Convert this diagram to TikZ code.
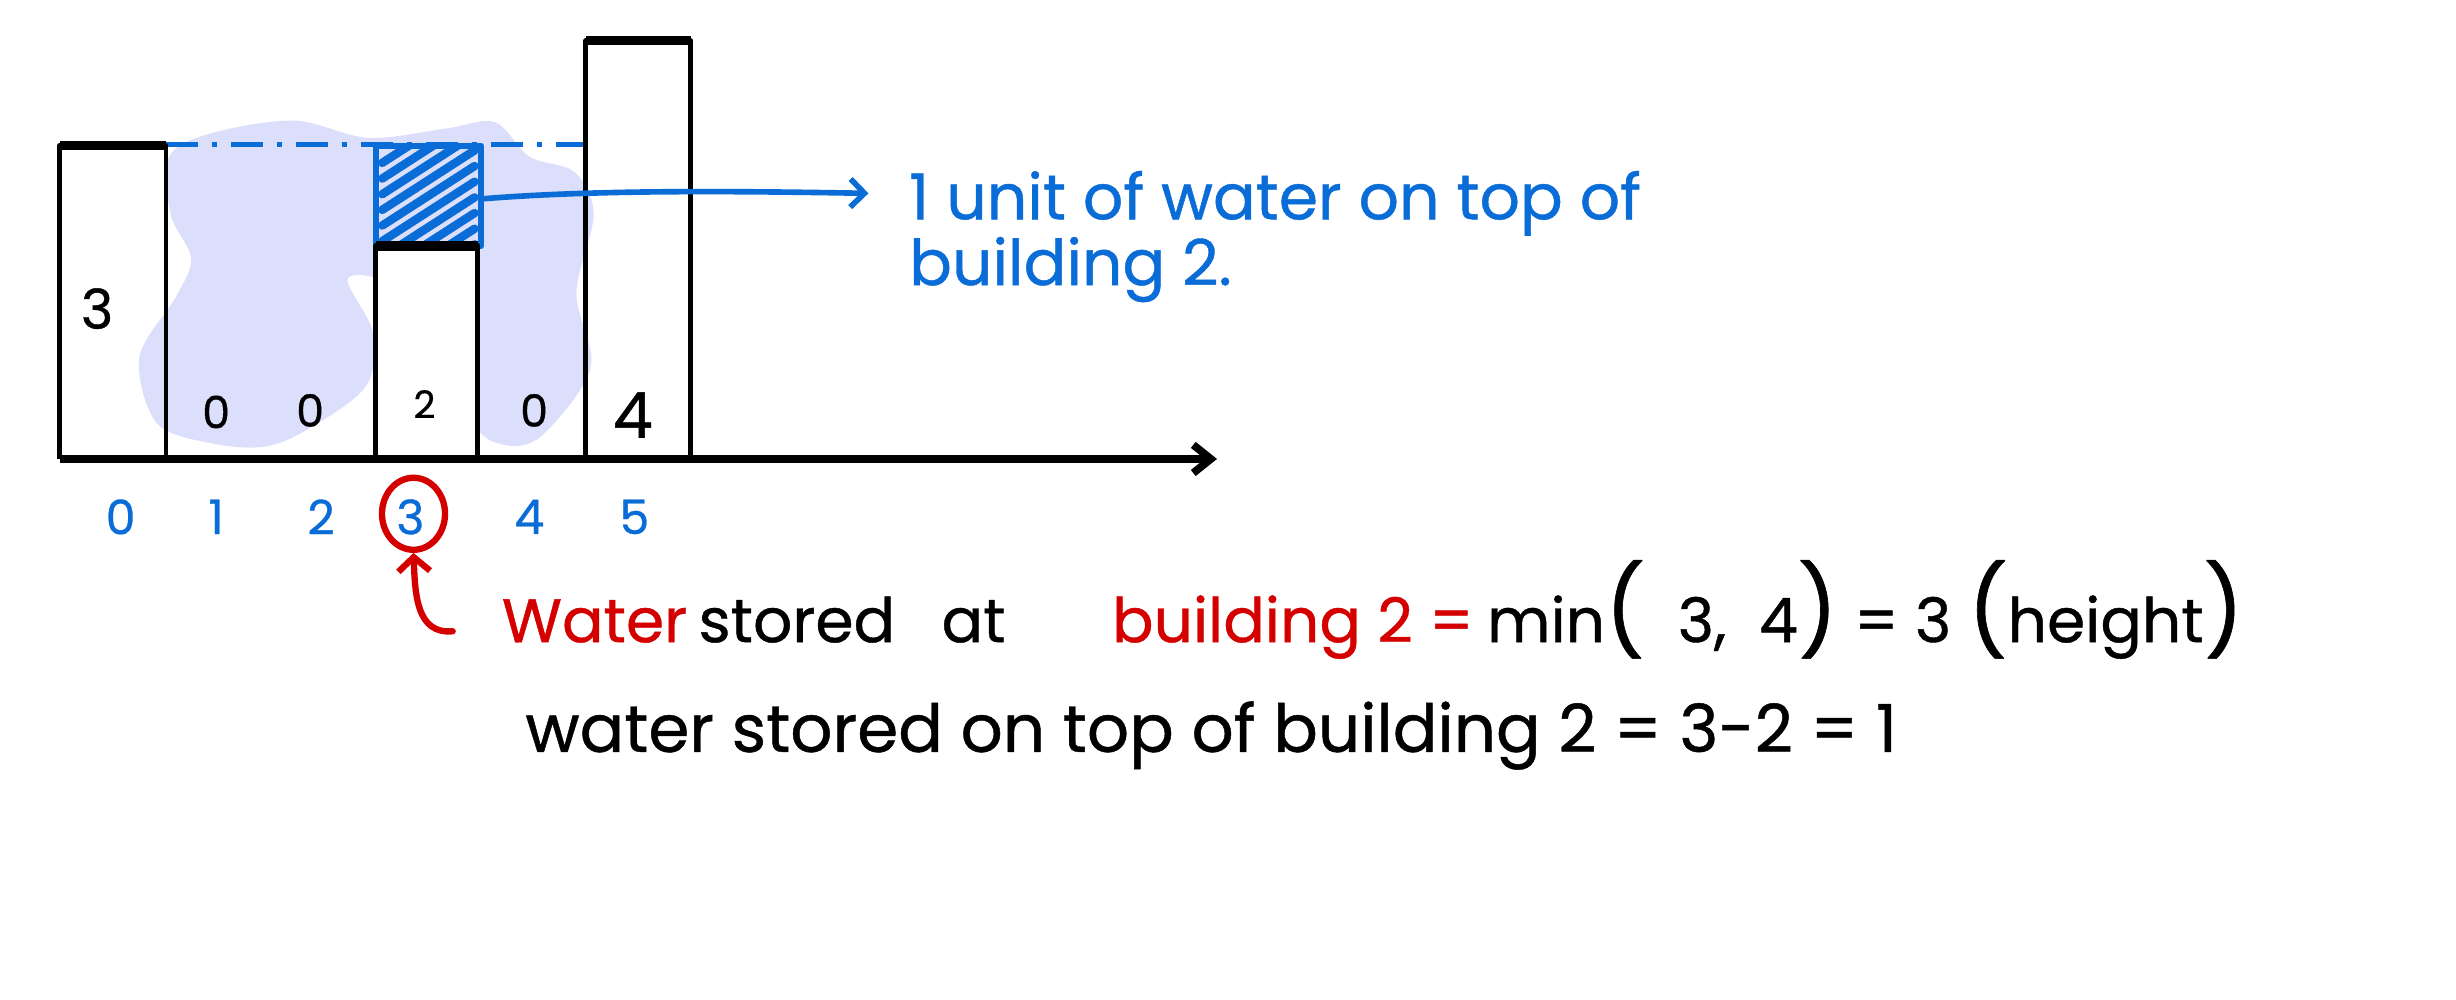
\documentclass[tikz,border=0pt]{standalone}
\usepackage{fontspec}
\setsansfont{Poppins}[FakeBold=0.7]
\usetikzlibrary{arrows.meta,positioning,shapes.geometric}
\definecolor{wblue}{HTML}{0A6CD6}
\definecolor{wred}{HTML}{D40000}
\definecolor{wpool}{HTML}{DCDFFB}
\newcommand{\bigparen}[1]{{\fontsize{25}{25}\selectfont #1}}
\tikzset{
	bar/.style={line width=1.4pt, line join=round},
	bartop/.style={line width=2.6pt},
	idx/.style={wblue, font=\sffamily\fontsize{13.5}{15}\selectfont},
	hlabel/.style={font=\sffamily\fontsize{12}{14}\selectfont},
	note/.style={wblue, anchor=base west, inner sep=0pt, font=\sffamily\fontsize{18}{21}\selectfont},
	say/.style={anchor=base west, inner sep=0pt, font=\sffamily\fontsize{17.5}{20}\selectfont},
	ring/.style={draw=wred, ellipse, line width=1.8pt, minimum width=0.63cm, minimum height=0.72cm},
}
\begin{document}
\begin{tikzpicture}[x=0.015663cm, y=-0.015663cm, font=\sffamily]
	\useasboundingbox (0,0) rectangle (1568,638);
	%water pool
	\fill[wpool] plot[smooth cycle, tension=0.55] coordinates{(108,100) (135,85) (188,77) (235,88)
		(285,82) (316,78) (338,100) (367,110) (379,137) (368,187) (377,235) (346,278)
		(322,284) (302,268) (290,200) (250,180) (222,178) (238,212) (234,246) (200,272)
		(170,285) (135,283) (100,270) (89,228) (112,190) (122,165) (109,137)};
	\fill[white] (240,157) rectangle (305,293);
	%water on top of building 2
	\begin{scope}
		\clip (240,93) rectangle (307,157);
		\foreach \c in {104,114,...,194}
		\draw[wblue, line width=2.4pt, line cap=round] (244,\c) -- (303,\c-38);
	\end{scope}
	\draw[wblue, line width=1.8pt, line join=round] (240,93) rectangle (307,157);
	\coordinate (wbox) at (307,127);
	%level of building 0
	\draw[wblue, line width=1.4pt, dash pattern=on 9pt off 4pt on 1.5pt off 4pt] (106,92) -- (374,92);
	%buildings
	\foreach \l/\r/\t in {38/106/93, 240/305/157, 374/441/26}{
		\draw[bar] (\l,293) |- (\r,\t) -- (\r,293);
		\draw[bartop] (\l,\t) -- (\r,\t);
	}
	%axis
	\draw[line width=2.2pt, -{Straight Barb[length=5pt,width=8pt]}] (38,293) -- (777,293);
	%heights
	\foreach \x/\y/\h/\s [count=\i from 0] in {62/197/3/1.3, 138/263/0/1.05, 198/262/0/1.05, 271/258/2/0.9, 341/262/0/1.05, 404/265/4/1.5}
	\node[hlabel, scale=\s] (h\i) at (\x,\y) {\h};
	%indices
	\foreach \x [count=\i from 0] in {77,138,205,262,338,405}
	\node[idx] (i\i) at (\x,330) {\i};
	%pointer to index 3
	\node[ring] (ring) at (264,328) {};
	\coordinate (hook) at (289,403);
	\draw[wred, line width=1.8pt, line cap=round, -{Straight Barb[length=4pt,width=9pt]}]
	(hook) .. controls (266,405) and (265,380) .. (ring.south);
	%notes
	\node[note] (note1) at (580,140) {1 unit of water on top of};
	\node[note] (note2) at (580,182) {building 2.};
	\draw[wblue, line width=1.6pt, line cap=round, -{Straight Barb[length=4pt,width=8pt]}]
	(wbox) .. controls (380,121) and (470,122) .. ([xshift=-0.4cm,yshift=0.1cm]note1.west);
	%statement
	\node[say, text=wred] (s1) at (320,410) {Water};
	\node[say, base right=0.1cm of s1] (s2) {stored};
	\node[say, base right=0.45cm of s2] (s3) {at};
	\node[say, text=wred, base right=1.05cm of s3] (s4) {building 2 =};
	\node[say, base right=0.12cm of s4] (s5) {min\bigparen{(}\ \ 3,\ \ 4\bigparen{)} = 3 \bigparen{(}height\bigparen{)}};
	\node[say, font=\sffamily\fontsize{18.8}{21}\selectfont] (s6) at (335,480) {water stored on top of building 2 = 3-2 = 1};
\end{tikzpicture}
\end{document}
